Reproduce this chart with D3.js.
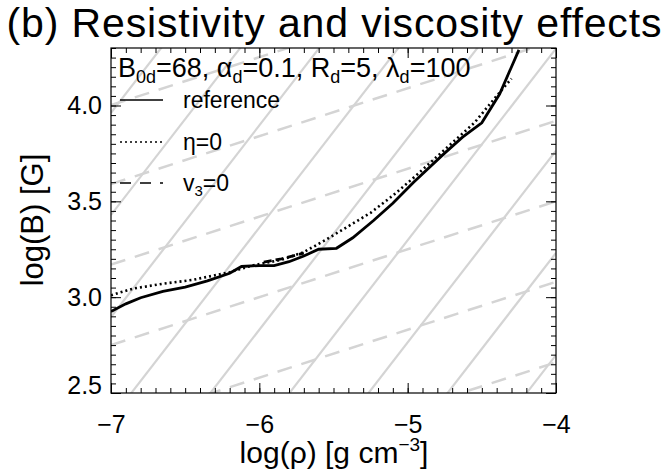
<!DOCTYPE html>
<html>
<head>
<meta charset="utf-8">
<script src="https://cdn.jsdelivr.net/npm/d3@7"></script>
<style>
body { margin: 0; background: #fff; }
svg { display: block; font-family: "Liberation Sans", Arial, Helvetica, sans-serif; }
</style>
</head>
<body>
<svg id="chart" width="664" height="469"></svg>
<script>
// log(rho) vs log(B) for the three runs
var refRho = [-7.0, -6.9, -6.8, -6.65, -6.5, -6.35, -6.2, -6.12, -6.0, -5.9, -5.8, -5.7, -5.6, -5.48, -5.37, -5.23, -5.1, -4.96, -4.76, -4.63, -4.5, -4.38, -4.25];
var refB   = [2.925, 2.965, 2.997, 3.03, 3.052, 3.085, 3.125, 3.16, 3.165, 3.165, 3.185, 3.215, 3.25, 3.255, 3.31, 3.40, 3.49, 3.60, 3.745, 3.835, 3.91, 4.06, 4.29];

var etaRho = [-7.0, -6.85, -6.65, -6.45, -6.2, -6.05, -5.85, -5.7, -5.55, -5.4, -5.25, -5.1, -4.95, -4.75, -4.55, -4.4, -4.3];
var etaB   = [3.01, 3.045, 3.07, 3.09, 3.13, 3.165, 3.195, 3.235, 3.30, 3.37, 3.44, 3.53, 3.63, 3.77, 3.91, 4.05, 4.14];

var v3Rho = [-5.97, -5.85, -5.70];
var v3B   = [3.183, 3.20, 3.23];

// grey guide lines: log(B) where they meet log(rho) = -7 and -4
var solidLeft  = [3.962, 3.429, 2.896, 2.363, 1.83, 1.297, 0.764, 0.231, -0.302];
var solidRight = [6.962, 6.429, 5.896, 5.363, 4.83, 4.297, 3.764, 3.231, 2.698];
var dashLeft   = [4.002, 3.59, 3.17, 2.75, 2.33, 1.91];
var dashRight  = [4.752, 4.34, 3.92, 3.50, 3.08, 2.66];

var xTicks = [-7, -6, -5, -4];
var yTicks = [2.5, 3.0, 3.5, 4.0];

var legendLabels = ["reference", "\u03b7=0", "v"];

var mLeft = 111, mRight = 556, mTop = 48, mBottom = 393;

var svg = d3.select("#chart");

var x = d3.scaleLinear().domain([-7, -4]).range([mLeft, mRight]);
var y = d3.scaleLinear().domain([2.5, 4.3]).range([mBottom, mTop]);

svg.append("clipPath").attr("id", "plotclip")
    .append("rect")
    .attr("x", mLeft).attr("y", mTop)
    .attr("width", mRight - mLeft).attr("height", mBottom - mTop);

var plot = svg.append("g").attr("clip-path", "url(#plotclip)");

function pairs(xs, ys) {
    return xs.map(function(d, i) { return [d, ys[i]]; });
}

var line = d3.line()
    .x(function(d) { return x(d[0]); })
    .y(function(d) { return y(d[1]); });

// guide lines
plot.selectAll("line.gsolid")
    .data(d3.zip(solidLeft, solidRight))
    .enter().append("line")
    .attr("class", "gsolid")
    .attr("x1", x(-7)).attr("x2", x(-4))
    .attr("y1", function(d) { return y(d[0]); })
    .attr("y2", function(d) { return y(d[1]); })
    .attr("stroke", "#d4d4d4")
    .attr("stroke-width", 2.2);

plot.selectAll("line.gdash")
    .data(d3.zip(dashLeft, dashRight))
    .enter().append("line")
    .attr("class", "gdash")
    .attr("x1", x(-7)).attr("x2", x(-4))
    .attr("y1", function(d) { return y(d[0]); })
    .attr("y2", function(d) { return y(d[1]); })
    .attr("stroke", "#d4d4d4")
    .attr("stroke-width", 2.5)
    .attr("stroke-dasharray", "15,10");

// data curves
plot.append("path")
    .datum(pairs(etaRho, etaB))
    .attr("d", line)
    .attr("fill", "none")
    .attr("stroke", "#000")
    .attr("stroke-width", 2.6)
    .attr("stroke-dasharray", "2,3");

plot.append("path")
    .datum(pairs(refRho, refB))
    .attr("d", line)
    .attr("fill", "none")
    .attr("stroke", "#000")
    .attr("stroke-width", 2.8);

plot.append("path")
    .datum(pairs(v3Rho, v3B))
    .attr("d", line)
    .attr("fill", "none")
    .attr("stroke", "#000")
    .attr("stroke-width", 2.8)
    .attr("stroke-dasharray", "8,4");

// axes, ticks inward on all four sides
function drawAxis(axisFn, scale, ticks, transform, showLabels) {
    var major = svg.append("g").attr("transform", transform)
        .call(axisFn(scale).tickValues(ticks).tickSize(-10).tickSizeOuter(0).tickPadding(8)
            .tickFormat(showLabels ? function(d) { return d3.format(".1f")(d); } : ""));
    var minor = svg.append("g").attr("transform", transform)
        .call(axisFn(scale).ticks(30).tickSize(-5).tickSizeOuter(0).tickFormat(""));
    major.select(".domain").remove();
    minor.select(".domain").remove();
    return major;
}

var xb = drawAxis(d3.axisBottom, x, xTicks, "translate(0," + mBottom + ")", true);
xb.selectAll("text").text(function(d) { return "\u2212" + Math.abs(d); });
drawAxis(d3.axisTop, x, xTicks, "translate(0," + mTop + ")", false);
var yl = drawAxis(d3.axisLeft, y, yTicks, "translate(" + mLeft + ",0)", true);
drawAxis(d3.axisRight, y, yTicks, "translate(" + mRight + ",0)", false);

svg.selectAll(".tick line").attr("stroke", "#000").attr("stroke-width", 1);
xb.selectAll("text").attr("font-size", 25).attr("dy", "1.28em");
yl.selectAll("text").attr("font-size", 25).attr("dx", "-1");
// the lowest label sits a little above its tick
yl.selectAll("text").filter(function(d) { return d === yTicks[0]; }).attr("dy", "0");

svg.append("rect")
    .attr("x", mLeft).attr("y", mTop)
    .attr("width", mRight - mLeft).attr("height", mBottom - mTop)
    .attr("fill", "none")
    .attr("stroke", "#000")
    .attr("stroke-width", 1.2);

// title and axis titles
svg.append("text")
    .attr("x", 334).attr("y", 37)
    .attr("text-anchor", "middle")
    .attr("font-size", 41)
    .attr("textLength", 655)
    .text("(b) Resistivity and viscosity effects");

var xt = svg.append("text")
    .attr("x", 334).attr("y", 463)
    .attr("text-anchor", "middle")
    .attr("font-size", 30)
    .text("log(\u03c1) [g cm");
xt.append("tspan").attr("font-size", 19).attr("dy", -12).text("\u22123");
xt.append("tspan").attr("dy", 12).text("]");

svg.append("text")
    .attr("transform", "translate(43,220) rotate(-90)")
    .attr("text-anchor", "middle")
    .attr("font-size", 31)
    .text("log(B) [G]");

// legend
var info = svg.append("text")
    .attr("x", 118).attr("y", 77)
    .attr("font-size", 27);
[["B", "0d", "=68, "], ["\u03b1", "d", "=0.1, "], ["R", "d", "=5, "], ["\u03bb", "d", "=100"]].forEach(function(p) {
    info.append("tspan").attr("dy", 0).text(p[0]);
    info.append("tspan").attr("font-size", 18).attr("dy", 6).text(p[1]);
    info.append("tspan").attr("dy", -6).text(p[2]);
});

var legY = [100, 142, 183];
var legDash = [null, "2,3", "11,9"];
legY.forEach(function(ly, i) {
    svg.append("line")
        .attr("x1", 120).attr("x2", 163)
        .attr("y1", ly).attr("y2", ly)
        .attr("stroke", "#000")
        .attr("stroke-width", 1.3)
        .attr("stroke-dasharray", legDash[i]);
});
svg.append("text").attr("x", 183).attr("y", legY[0] + 8).attr("font-size", 23).text(legendLabels[0]);
svg.append("text").attr("x", 183).attr("y", legY[1] + 8).attr("font-size", 23).text(legendLabels[1]);
var v3 = svg.append("text").attr("x", 183).attr("y", legY[2] + 8).attr("font-size", 23).text(legendLabels[2]);
v3.append("tspan").attr("font-size", 15).attr("dy", 5).text("3");
v3.append("tspan").attr("dy", -5).text("=0");
</script>
</body>
</html>
